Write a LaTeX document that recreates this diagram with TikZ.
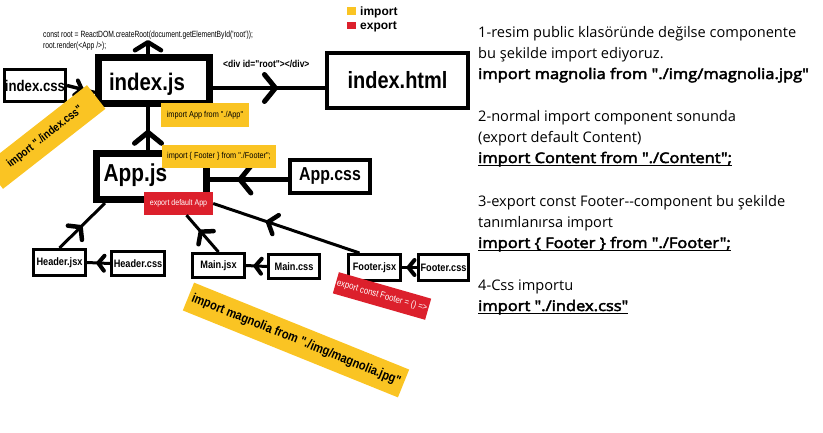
\documentclass[tikz,border=0pt]{standalone}
\usepackage{fontspec}
\usepackage{graphicx}
\setmainfont{Liberation Sans}
\newfontfamily\dfont[FakeStretch=0.85]{Liberation Sans}
\newfontfamily\codefont[FakeStretch=0.75]{Liberation Sans}
\newfontfamily\rfont[AutoFakeBold=3]{Open Sans}
\usetikzlibrary{arrows.meta,decorations.markings}
\definecolor{yel}{RGB}{250,196,35}
\definecolor{rd}{RGB}{220,32,44}
\newcommand\fsz[1]{\dfont\bfseries\fontsize{#1}{#1}\selectfont}
\newcommand\fsr[1]{\dfont\fontsize{#1}{#1}\selectfont}
\newsavebox\ulbox
\newcommand\ulin[1]{\sbox\ulbox{#1}\rlap{\rule[-2.8pt]{\wd\ulbox}{1.3pt}}\usebox\ulbox}
\newcommand\wbold[1]{\scalebox{1.13}[1]{#1}}
\tikzset{
  bx/.style={draw, line width=3pt, fill=white, inner sep=0pt},
  bbx/.style={draw, line width=7pt, inner sep=0pt},
  ylab/.style={fill=yel, inner sep=0pt, text=black},
  rlab/.style={fill=rd, inner sep=0pt, text=white},
  ln/.style={draw, line width=3pt},
  chevB/.style={postaction={decorate},decoration={markings,mark=at position #1 with {\arrow{Straight Barb[length=11pt,width=27pt,line width=5pt,round]}}}},
  chevM/.style={postaction={decorate},decoration={markings,mark=at position #1 with {\arrow{Straight Barb[length=8pt,width=20pt,line width=4.5pt,round]}}}},
  chevS/.style={postaction={decorate},decoration={markings,mark=at position #1 with {\arrow{Straight Barb[length=6pt,width=15pt,line width=4pt,round]}}}},
  rt/.style={anchor=base west, inner sep=0pt, font=\rfont\fontsize{14.6}{14.6}\selectfont},
  rtb/.style={anchor=base west, inner sep=0pt, font=\rfont\bfseries\fontsize{14.6}{14.6}\selectfont},
}
\begin{document}
\begin{tikzpicture}[x=1pt,y=-1pt]
\useasboundingbox (0,0) rectangle (823,432);

% legend
\node[fill=yel, minimum width=9, minimum height=8, inner sep=0pt] (legy) at (351.5,11) {};
\node[fill=rd, minimum width=9, minimum height=7, inner sep=0pt] (legr) at (351.5,25) {};
\node[anchor=base west, inner sep=0pt, font=\bfseries\fontsize{12}{12}\selectfont] (legyt) at (360,15.5) {import};
\node[anchor=base west, inner sep=0pt, font=\bfseries\fontsize{12}{12}\selectfont] (legrt) at (360,29) {export};

% code text
\node[anchor=base west, inner sep=0pt, font=\codefont\fontsize{9}{9}\selectfont] (code1) at (43,37) {const root = ReactDOM.createRoot(document.getElementById('root'));};
\node[anchor=base west, inner sep=0pt, font=\codefont\fontsize{9}{9}\selectfont] (code2) at (43,48.5) {root.render(<App />);};

% boxes
\node[bx, minimum width=61, minimum height=32, font=\fsz{15.5}] (icss) at (35,85.5) {index.css};
\node[bbx, minimum width=111, minimum height=46] (ijs) at (154,80.5) {};
\node[font=\fsz{24}, inner sep=0pt] (ijst) at (147,84) {index.js};
\node[bx, line width=4pt, minimum width=141, minimum height=55, font=\fsz{23.5}] (ihtml) at (397.5,80.5) {index.html};
\node[bbx, minimum width=110, minimum height=46] (apjs) at (151.5,176.5) {};
\node[font=\fsz{24.5}, inner sep=0pt] (apjst) at (135.5,175) {App.js};
\node[bx, line width=3.5pt, minimum width=80, minimum height=33, font=\fsz{18.7}] (apcss) at (330,176.5) {App.css};
\node[bx, minimum width=52, minimum height=26, font=\fsz{10.8}] (hjsx) at (59.5,262.5) {Header.jsx};
\node[bx, minimum width=53, minimum height=24, font=\fsz{10.8}] (hcss) at (138,263.5) {Header.css};
\node[bx, minimum width=52, minimum height=24, font=\fsz{10.8}] (mjsx) at (218.5,265.5) {Main.jsx};
\node[bx, minimum width=51, minimum height=24, font=\fsz{10.8}] (mcss) at (294,266.5) {Main.css};
\node[bx, minimum width=52, minimum height=26, font=\fsz{10.8}] (fjsx) at (374.5,267.5) {Footer.jsx};
\node[bx, minimum width=50, minimum height=26, font=\fsz{10.8}] (fcss) at (443.5,267.5) {Footer.css};
\node[rlab, minimum width=69, minimum height=23, font=\fsr{8.3}] (exp) at (178.5,203.5) {export default App};

% connectors
\coordinate (up) at (148,40);
\draw[ln, line width=4pt, -{Straight Barb[length=8pt,width=26pt,line width=4.5pt,round]}] (ijs.north -| up) -- (up);
\draw[ln, line width=4pt, chevB=0.58] ([yshift=-7.5pt]ijs.east) -- ([yshift=-7.5pt]ihtml.west);
\node[anchor=base west, inner sep=0pt, font=\fsz{10}] (divt) at (223,67) {<div id="root"></div>};
\draw[ln, line width=3.5pt, chevS=0.6] (icss.east) -- ([yshift=-12pt]ijs.west);
\draw[ln, line width=4pt, chevB=0.47] (apjs.north -| up) -- (ijs.south -| up);
\draw[ln, line width=5pt, chevB=0.65] ([yshift=-3pt]apcss.west) -- ([yshift=-3pt]apjs.east |- apcss.west);
\draw[ln, chevM=0.5] (hjsx.north) -- ([xshift=12pt]apjs.south west);
\draw[ln, chevM=0.6] (mjsx.north) -- ([xshift=8pt]exp.south);
\draw[ln, chevM=0.64] ([xshift=-15pt]fjsx.north) -- (exp.east);
\draw[ln, chevS=0.6] (hcss.west) -- (hjsx.east);
\draw[ln, chevS=0.65] (mcss.west) -- (mjsx.east);
\draw[ln, chevS=0.7] (fcss.west) -- (fjsx.east);

% labels
\node[ylab, minimum width=88, minimum height=24, font=\fsr{8.6}] (lapp) at (205,115) {import App from "./App"};
\node[ylab, minimum width=114, minimum height=23, font=\fsr{8.6}] (lfoot) at (219,156.5) {import \{ Footer \} from "./Footer";};
\node[ylab, rotate=38, minimum width=130, minimum height=30, font=\fsz{11.5}] (lcss) at (45,137) {import "./index.css"};
\node[ylab, rotate=-22, minimum width=232, minimum height=30, font=\fsz{13}] (lmag) at (296,340) {import magnolia from "./img/magnolia.jpg"};
\node[rlab, rotate=-16, minimum width=96, minimum height=22, font=\fsr{9.3}] (lexp) at (382,296) {export const Footer = () =>};

% right text
\node[rt] (t1) at (478,37) {1-resim public klasöründe değilse componente};
\node[rt] (t2) at (478,58) {bu şekilde import ediyoruz.};
\node[rtb] (t3) at (478,79) {\wbold{import magnolia from "./img/magnolia.jpg"}};
\node[rt] (t4) at (478,121) {2-normal import component sonunda};
\node[rt] (t5) at (478,142) {(export default Content)};
\node[rtb] (t6) at (478,163) {\ulin{\wbold{import Content from "./Content";}}};
\node[rt] (t7) at (478,206) {3-export const Footer-{}-component bu şekilde};
\node[rt] (t8) at (478,227) {tanımlanırsa import};
\node[rtb] (t9) at (478,248) {\ulin{\wbold{import \{ Footer \} from "./Footer";}}};
\node[rt] (t10) at (478,290) {4-Css importu};
\node[rtb] (t11) at (478,311) {\ulin{\wbold{import "./index.css"}}};
\end{tikzpicture}
\end{document}
